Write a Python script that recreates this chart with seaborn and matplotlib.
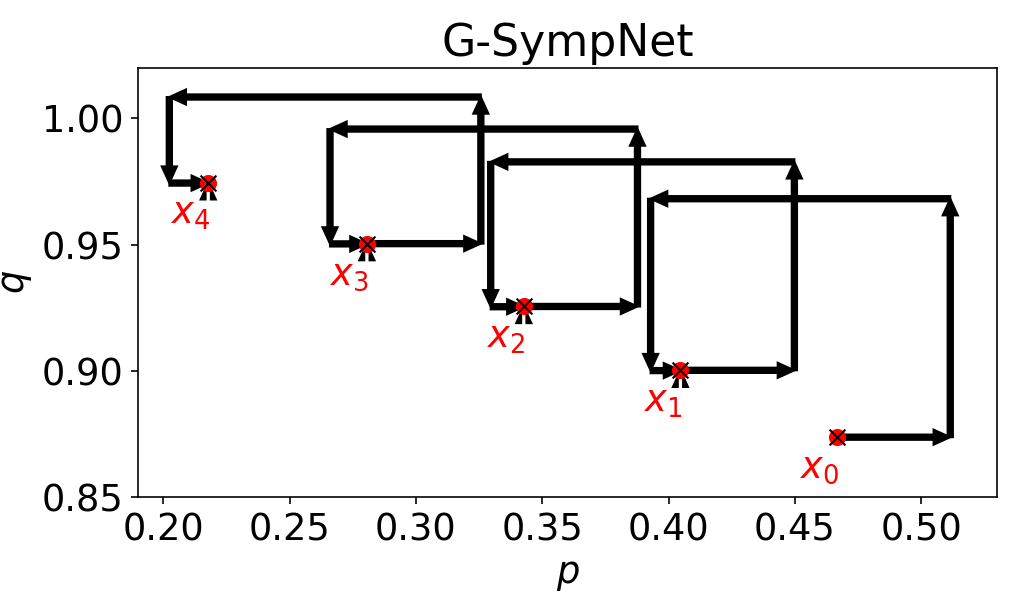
import matplotlib
matplotlib.use("Agg")
import matplotlib.pyplot as plt
import seaborn as sns

# states x_0 ... x_4 of the trajectory
p_pts = [0.4668, 0.4047, 0.3427, 0.2806, 0.2178]
q_pts = [0.8737, 0.9002, 0.9255, 0.9504, 0.9745]
labels = ["$x_0$", "$x_1$", "$x_2$", "$x_3$", "$x_4$"]

# intermediate states after each module of one G-SympNet step
p_mod1 = [0.5115, 0.4498, 0.3877, 0.3257]   # up
q_mod2 = [0.9682, 0.9828, 0.9958, 1.0085]   # low
p_mod3 = [0.3929, 0.3296, 0.2660, 0.2024]   # up
q_mod4 = [0.9001, 0.9254, 0.9503, 0.9744]   # low
# module 5 -> p of next state, module 6 -> q of next state

plt.rcParams["font.size"] = 18

fig = plt.figure(figsize=(1019 / 147, 611 / 147), dpi=147)
ax = fig.add_axes([138 / 1019, 1 - 497 / 611, 859 / 1019, 429 / 611])

arrow_kw = dict(width=0.0021, head_width=0.006, head_length=0.0066,
                length_includes_head=True, color="k", zorder=2)

for k in range(len(p_mod1)):
    path = [(p_pts[k], q_pts[k]),
            (p_mod1[k], q_pts[k]),
            (p_mod1[k], q_mod2[k]),
            (p_mod3[k], q_mod2[k]),
            (p_mod3[k], q_mod4[k]),
            (p_pts[k + 1], q_mod4[k]),
            (p_pts[k + 1], q_pts[k + 1])]
    for (x0, y0), (x1, y1) in zip(path[:-1], path[1:]):
        ax.arrow(x0, y0, x1 - x0, y1 - y0, **arrow_kw)

sns.scatterplot(x=p_pts, y=q_pts, color="red", s=70, linewidth=0,
                ax=ax, zorder=3)
sns.scatterplot(x=p_pts, y=q_pts, color="k", marker="x", s=60,
                linewidth=1.0, ax=ax, zorder=4)

for x, y, lab in zip(p_pts, q_pts, labels):
    ax.annotate(lab, (x, y), xytext=(1, -6), textcoords="offset points",
                ha="right", va="top", color="red", fontsize=18)

ax.set_xlim(0.19, 0.53)
ax.set_ylim(0.85, 1.02)
ax.set_xticks([0.20, 0.25, 0.30, 0.35, 0.40, 0.45, 0.50])
ax.set_yticks([0.85, 0.90, 0.95, 1.00])
ax.set_xlabel("$p$")
ax.set_ylabel("$q$")
ax.set_title("G-SympNet", fontsize="large")

fig.savefig("out.png", dpi=147)
